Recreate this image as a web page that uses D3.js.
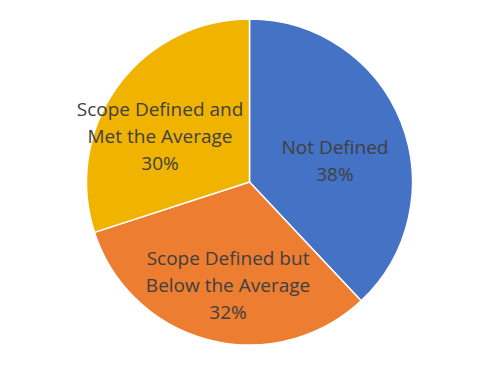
<!DOCTYPE html>
<html>
<head>
<meta charset="utf-8">
<script src="https://cdn.jsdelivr.net/npm/d3@7"></script>
<style>
  html, body { margin: 0; padding: 0; background: #fff; }
</style>
</head>
<body>
<svg width="499" height="365"></svg>
<script>
// chart data
const categories = ['Not Defined', 'Scope Defined but Below the Average', 'Scope Defined and Met the Average']
const labelLines = [['Not Defined'], ['Scope Defined but', 'Below the Average'], ['Scope Defined and', 'Met the Average']]
const values = [38, 32, 30]
const colors = ['#4472C4', '#ED7D31', '#F0B400']

try {
  const cx = 249.5, cy = 182, r = 163

  const svg = d3.select('svg')
  const g = svg.append('g').attr('transform', `translate(${cx},${cy})`)

  const pie = d3.pie().sort(null).value(d => d)
  const arcs = pie(values)
  const arc = d3.arc().innerRadius(0).outerRadius(r)
  const labelArc = d3.arc().innerRadius(100).outerRadius(100)
  // nudge labels the way excel's "best fit" places them
  const nudge = [[-7.5, 15.8], [3.4, 6.6], [-8.6, 13.3]]

  g.selectAll('path')
    .data(arcs)
    .enter().append('path')
    .attr('d', arc)
    .attr('fill', (d, i) => colors[i])
    .attr('stroke', '#fff')
    .attr('stroke-width', 1.5)

  const lh = 27
  const label = g.selectAll('text')
    .data(arcs)
    .enter().append('text')
    .attr('text-anchor', 'middle')
    .attr('font-family', 'Open Sans, sans-serif')
    .attr('font-size', 19)
    .attr('fill', '#404040')
    .attr('transform', (d, i) => {
      const [x, y] = labelArc.centroid(d)
      return `translate(${x + nudge[i][0]},${y + nudge[i][1]})`
    })

  label.each(function (d, i) {
    const lines = labelLines[i].concat([values[i] + '%'])
    const t = d3.select(this)
    const off = -(lines.length - 1) / 2 * lh + 6.5
    lines.forEach((s, k) => {
      t.append('tspan').attr('x', 0).attr('y', off + k * lh).text(s)
    })
  })
} catch (e) {
  console.error(e)
}
</script>
</body>
</html>
